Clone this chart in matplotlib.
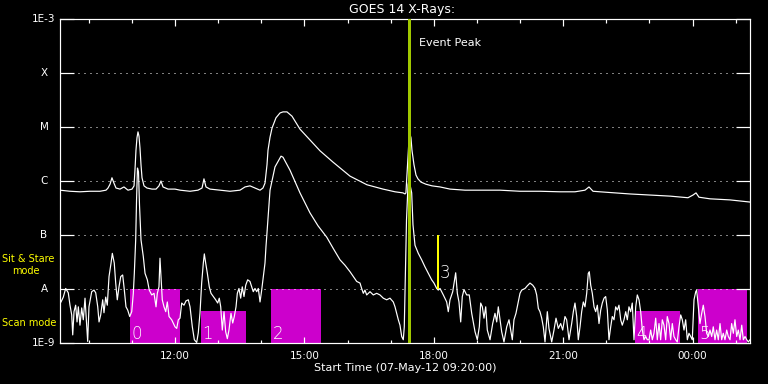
import numpy as np
import matplotlib
matplotlib.use("Agg")
import matplotlib.pyplot as plt
from matplotlib.patches import Rectangle
from matplotlib.ticker import FixedLocator, NullLocator

# ---------------- data (time in minutes after 07-May-12 09:20) ----------------
# GOES 14 long channel (1-8 A), log10 flux [W/m^2]
long_t = [0, 13.9, 27.8, 41.7, 55.7, 64.0, 66.8, 69.6, 72.3, 75.1,
          77.9, 83.5, 89.0, 94.6, 100.2, 103.0, 104.3, 105.7, 107.1, 108.5,
          109.9, 111.3, 112.7, 114.1, 116.9, 121.0, 128.0, 133.6, 137.7, 140.5,
          143.3, 150.3, 160.0, 167.0, 180.9, 192.0, 197.6, 200.3, 203.1, 208.7,
          222.6, 236.5, 250.4, 257.4, 264.3, 271.3, 278.3, 282.4, 285.2, 288.0,
          289.4, 292.2, 295.0, 300.5, 306.1, 310.3, 315.8, 322.8, 333.9, 347.8,
          361.7, 379.8, 403.5, 427.1, 449.4, 466.1, 477.2, 480.0, 481.3, 482.7,
          484.1, 485.5, 486.9, 488.3, 489.7, 492.5, 495.3, 498.0, 502.2, 509.2,
          517.6, 528.7, 542.6, 563.5, 584.3, 612.2, 640.0, 667.8, 695.7, 716.5,
          730.4, 736.0, 741.6, 751.3, 772.2, 793.0, 820.9, 848.7, 873.7, 880.7,
          884.9, 889.0, 904.3, 932.2, 960.0]
long_log10 = [-6.17, -6.19, -6.20, -6.19, -6.19, -6.17, -6.13, -6.06, -5.94, -6.04,
              -6.13, -6.15, -6.11, -6.17, -6.15, -6.09, -5.80, -5.43, -5.20, -5.09,
              -5.17, -5.39, -5.70, -5.94, -6.09, -6.13, -6.15, -6.15, -6.09, -6.00,
              -6.11, -6.15, -6.15, -6.17, -6.19, -6.17, -6.13, -5.96, -6.11, -6.15,
              -6.17, -6.19, -6.17, -6.11, -6.09, -6.13, -6.17, -6.13, -6.04, -5.70,
              -5.43, -5.19, -5.02, -4.83, -4.74, -4.72, -4.72, -4.80, -5.04, -5.24,
              -5.44, -5.65, -5.91, -6.07, -6.15, -6.20, -6.22, -6.24, -6.22, -5.89,
              -5.57, -5.24, -5.13, -5.20, -5.43, -5.70, -5.89, -5.96, -6.02, -6.06,
              -6.09, -6.11, -6.15, -6.17, -6.17, -6.17, -6.19, -6.19, -6.20, -6.20,
              -6.17, -6.11, -6.19, -6.20, -6.22, -6.24, -6.26, -6.28, -6.31, -6.26,
              -6.22, -6.30, -6.33, -6.35, -6.39]

# GOES 14 short channel (0.5-4 A), log10 flux [W/m^2]
short_t = [1.4, 4.6, 7.9, 11.5, 13.9, 16.3, 17.7, 19.5, 21.8, 23.7,
           25.5, 27.8, 30.2, 32.4, 34.8, 37.1, 38.5, 40.3, 44.1, 47.3,
           49.7, 52.5, 54.3, 56.6, 59.4, 61.2, 63.6, 65.8, 68.2, 71.0,
           72.8, 75.5, 77.5, 79.7, 82.1, 84.5, 87.2, 89.5, 91.8, 94.2,
           97.0, 99.8, 102.0, 103.4, 105.3, 106.5, 107.8, 109.2, 110.6, 112.7,
           115.9, 118.3, 121.5, 124.2, 127.6, 130.8, 133.6, 135.4, 137.7, 139.1,
           140.5, 142.3, 144.7, 147.1, 149.3, 151.7, 155.4, 157.6, 160.0, 162.4,
           164.6, 167.0, 169.3, 172.5, 175.3, 178.5, 180.9, 184.1, 186.9, 190.2,
           192.4, 194.8, 197.1, 199.4, 200.8, 202.7, 204.9, 207.7, 210.1, 213.3,
           216.6, 219.4, 221.6, 223.6, 225.8, 228.2, 230.5, 232.8, 235.1, 237.9,
           240.3, 242.5, 244.9, 246.7, 249.0, 251.4, 253.6, 256.0, 258.4, 261.1,
           264.3, 266.7, 268.9, 271.3, 273.7, 275.9, 278.3, 280.6, 282.9, 285.2,
           286.6, 287.6, 292.2, 299.1, 307.5, 310.3, 320.0, 333.9, 347.8, 359.0,
           371.1, 380.2, 389.6, 396.5, 403.5, 408.1, 412.8, 417.4, 419.7, 422.0,
           424.3, 426.7, 431.3, 435.9, 440.6, 445.2, 449.8, 454.5, 459.1, 463.7,
           466.1, 468.4, 470.7, 473.0, 475.4, 477.6, 479.0, 480.4, 482.1, 484.2,
           485.5, 487.0, 489.3, 491.1, 493.9, 498.5, 503.2, 507.8, 512.4, 517.1,
           520.3, 524.1, 526.3, 528.7, 533.3, 538.0, 540.2, 542.6, 546.4, 550.5,
           552.8, 555.1, 557.5, 559.7, 562.1, 565.8, 569.4, 572.8, 575.0, 577.4,
           580.6, 583.4, 585.3, 587.6, 589.9, 592.3, 594.5, 598.3, 602.0, 605.2,
           607.6, 609.8, 612.2, 614.5, 617.7, 621.5, 624.7, 627.1, 629.3, 631.6,
           634.4, 637.6, 640.0, 642.4, 647.0, 650.2, 653.9, 657.7, 660.9, 663.2,
           665.5, 667.8, 670.2, 672.4, 674.8, 678.0, 680.3, 684.1, 687.3, 690.1,
           693.3, 696.6, 699.4, 702.6, 704.9, 708.2, 711.9, 714.2, 716.5, 718.9,
           721.1, 723.5, 725.8, 728.1, 730.4, 732.8, 735.0, 736.4, 738.4, 740.6,
           743.0, 745.3, 747.6, 749.9, 752.3, 754.5, 756.9, 759.2, 761.5, 763.8,
           766.2, 768.4, 770.8, 773.1, 775.4, 777.7, 780.1, 782.3, 784.7, 787.1,
           789.3, 791.6, 794.0, 796.2, 798.6, 801.0, 803.2, 805.6, 807.9, 810.2,
           812.5, 814.9, 817.1, 819.5, 821.8, 824.1, 826.4, 828.8, 831.0, 833.4,
           835.7, 838.0, 840.3, 842.7, 844.9, 847.3, 849.6, 851.9, 854.2, 856.6,
           858.8, 861.2, 863.6, 865.8, 868.2, 870.5, 872.8, 875.1, 877.5, 879.7,
           882.1, 884.5, 885.8, 888.1, 890.4, 892.8, 895.0, 897.4, 899.7, 902.0,
           904.3, 906.7, 908.9, 911.3, 913.6, 915.9, 918.3, 920.6, 922.8, 925.2,
           927.6, 929.8, 932.2, 934.5, 936.8, 939.1, 941.5, 943.7, 946.1, 948.5,
           950.7, 953.1, 955.5, 957.7, 960.0]
short_log10 = [-8.24, -8.15, -7.99, -8.07, -8.30, -8.48, -8.85, -8.42, -8.30, -8.61,
               -8.33, -8.67, -8.35, -8.57, -8.17, -8.67, -8.97, -8.33, -8.05, -8.02,
               -8.07, -8.33, -8.61, -8.48, -8.20, -8.44, -8.15, -8.30, -7.77, -7.52,
               -7.34, -7.52, -7.89, -8.20, -7.96, -7.77, -7.74, -8.02, -8.33, -8.39,
               -8.51, -8.42, -8.08, -7.71, -7.09, -6.35, -5.76, -5.83, -6.44, -7.09,
               -7.40, -7.71, -7.83, -8.02, -8.11, -8.08, -8.33, -8.08, -7.96, -7.43,
               -7.77, -8.20, -8.33, -8.42, -8.24, -8.51, -8.57, -8.63, -8.70, -8.73,
               -8.57, -8.54, -8.26, -8.30, -8.22, -8.20, -8.33, -8.70, -8.94, -8.99,
               -8.81, -8.44, -7.89, -7.52, -7.35, -7.52, -7.70, -7.96, -8.08, -8.14,
               -8.20, -8.26, -8.17, -8.33, -8.76, -8.42, -8.79, -8.92, -8.76, -8.45,
               -8.63, -8.51, -8.33, -8.08, -7.99, -8.17, -7.96, -8.14, -7.93, -7.83,
               -7.86, -7.96, -8.05, -7.99, -8.05, -7.99, -8.24, -8.02, -7.77, -7.52,
               -7.21, -7.03, -6.17, -5.74, -5.54, -5.56, -5.80, -6.22, -6.59, -6.83,
               -7.04, -7.25, -7.46, -7.56, -7.68, -7.77, -7.86, -7.89, -7.99, -8.08,
               -8.02, -8.11, -8.05, -8.11, -8.08, -8.11, -8.17, -8.20, -8.17, -8.24,
               -8.33, -8.45, -8.57, -8.67, -8.88, -8.94, -8.70, -7.83, -6.72, -6.07,
               -5.98, -6.07, -6.22, -6.81, -7.19, -7.34, -7.46, -7.59, -7.71, -7.83,
               -7.89, -7.99, -8.02, -7.99, -8.11, -8.24, -8.42, -8.20, -8.05, -7.70,
               -8.08, -8.24, -8.61, -8.14, -8.01, -8.11, -8.11, -8.45, -8.61, -8.79,
               -8.94, -8.70, -8.26, -8.33, -8.54, -8.33, -8.76, -8.94, -8.64, -8.45,
               -8.61, -8.33, -8.57, -8.79, -8.98, -8.70, -8.57, -8.76, -8.94, -8.57,
               -8.45, -8.24, -8.08, -8.02, -7.99, -7.94, -7.89, -7.93, -7.99, -8.11,
               -8.36, -8.42, -8.54, -8.70, -8.98, -8.42, -8.73, -8.98, -8.76, -8.54,
               -8.73, -8.64, -8.76, -8.51, -8.57, -8.94, -8.64, -8.42, -8.26, -8.51,
               -8.94, -8.70, -8.42, -8.24, -8.33, -8.08, -7.71, -7.68, -7.93, -8.08,
               -8.33, -8.42, -8.30, -8.64, -8.39, -8.26, -8.17, -8.14, -8.39, -8.94,
               -8.70, -8.51, -8.57, -8.33, -8.39, -8.30, -8.57, -8.67, -8.57, -8.42,
               -8.57, -8.33, -8.42, -8.26, -8.94, -8.33, -8.11, -8.20, -8.42, -8.76,
               -8.94, -8.88, -8.94, -8.94, -8.76, -8.94, -8.82, -8.54, -8.94, -8.64,
               -8.94, -8.57, -8.67, -8.94, -8.51, -8.64, -8.94, -8.64, -8.88, -8.94,
               -8.98, -8.70, -8.48, -8.57, -8.76, -8.57, -8.94, -8.82, -8.88, -8.94,
               -8.20, -8.05, -8.02, -8.33, -8.64, -8.45, -8.30, -8.51, -8.82, -8.88,
               -8.76, -8.88, -8.70, -8.94, -8.76, -8.94, -8.64, -8.94, -8.82, -8.94,
               -8.76, -8.88, -8.94, -8.64, -8.82, -8.57, -8.88, -8.76, -8.94, -8.67,
               -8.94, -8.88, -8.94, -8.98, -8.94]

# observation intervals (minutes after 09:20)
obs_labels = ["0", "1", "2", "4", "5"]
obs_start = [97.4, 196.2, 293.6, 800.0, 887.2]
obs_end = [167.0, 258.4, 362.7, 862.6, 956.2]
obs_mode = ["sit", "scan", "sit", "scan", "sit"]
mode_top = {"sit": 1e-8, "scan": 10 ** -8.4}
short_obs_label = "3"
short_obs_time = 525.9
short_obs_range = [1e-8, 1e-7]
event_peak_time = 485.6

y_levels = [1e-9, 1e-8, 1e-7, 1e-6, 1e-5, 1e-4, 1e-3]
y_labels = ["1E-9", "A", "B", "C", "M", "X", "1E-3"]
x_major = [160, 340, 520, 700, 880]
x_major_labels = ["12:00", "15:00", "18:00", "21:00", "00:00"]
x_minor = [40, 100, 220, 280, 400, 460, 580, 640, 760, 820, 940]

# ---------------- figure ----------------
W, H = 768, 384
PT = 72.0 / 100.0  # points per pixel
fig = plt.figure(figsize=(W / 100, H / 100), dpi=100, facecolor="black")
ax = fig.add_axes([60 / W, 1 - 343 / H, 690 / W, 324 / H], facecolor="black")
ax.set_yscale("log")
ax.set_xlim(0, 960)
ax.set_ylim(1e-9, 1e-3)

magenta = "#cc00cc"
yellow = "#ffff00"
green = "#a0c800"

for s, e, m in zip(obs_start, obs_end, obs_mode):
    ax.add_patch(Rectangle((s, 1e-9), e - s, mode_top[m] - 1e-9,
                           facecolor=magenta, edgecolor="none", zorder=1))

for lv in y_levels[1:-1]:
    ax.axhline(lv, color="white", lw=1 * PT, ls=(0, (1, 5)), zorder=2)

ax.plot(long_t, 10 ** np.array(long_log10), color="white", lw=1.2 * PT, zorder=3)
ax.plot(short_t, 10 ** np.array(short_log10), color="white", lw=1.2 * PT, zorder=3)

ax.vlines(short_obs_time, short_obs_range[0], short_obs_range[1],
          color=yellow, lw=2 * PT, zorder=4)
ax.annotate(short_obs_label, xy=(short_obs_time, short_obs_range[0]),
            xytext=(1.5 * PT, 11 * PT), textcoords="offset points",
            ha="left", va="baseline", color="white", fontsize=12,
            fontweight="light", zorder=5)

for lab, s in zip(obs_labels, obs_start):
    ax.annotate(lab, xy=(s, 1e-9), xytext=(1.5 * PT, 4 * PT),
                textcoords="offset points", ha="left", va="baseline",
                color="white", fontsize=12, fontweight="light", zorder=5)

ax.axvline(event_peak_time, color=green, lw=3 * PT, zorder=4)
ax.annotate("Event Peak", xy=(event_peak_time, 1e-3), xytext=(10 * PT, -24 * PT),
            textcoords="offset points", ha="left", va="center",
            color="white", fontsize=8)

# axes styling
for sp in ax.spines.values():
    sp.set_color("white")
    sp.set_linewidth(1.2 * PT)

ax.yaxis.set_major_locator(FixedLocator(y_levels))
ax.yaxis.set_minor_locator(NullLocator())
ax.tick_params(axis="y", which="major", direction="in", length=14 * PT,
               width=1.2 * PT, color="white", left=True, right=True,
               labelleft=False, labelright=False)
for lv, lab in zip(y_levels, y_labels):
    ax.text(-16 / 690, lv, lab, transform=ax.get_yaxis_transform(),
            ha="center", va="center", color="white", fontsize=7.5)

ax.xaxis.set_major_locator(FixedLocator(x_major))
ax.xaxis.set_minor_locator(FixedLocator(x_minor))
ax.set_xticklabels(x_major_labels)
ax.tick_params(axis="x", which="major", direction="in", length=6.5 * PT,
               width=1.2 * PT, color="white", top=True, bottom=True,
               labelcolor="white", labelsize=7.5, pad=6)
ax.tick_params(axis="x", which="minor", direction="in", length=3.5 * PT,
               width=1.2 * PT, color="white", top=True, bottom=True)

fig.text(402 / W, 1 - 9 / H, "GOES 14 X-Rays:", ha="center", va="center",
         color="white", fontsize=9)
fig.text(405 / W, 1 - 368 / H, "Start Time (07-May-12 09:20:00)", ha="center",
         va="center", color="white", fontsize=8)

fig.text(2 / W, 1 - 259 / H, "Sit & Stare", ha="left", va="center",
         color=yellow, fontsize=7)
fig.text(12.5 / W, 1 - 271.5 / H, "mode", ha="left", va="center",
         color=yellow, fontsize=7)
fig.text(2 / W, 1 - 323.5 / H, "Scan mode", ha="left", va="center",
         color=yellow, fontsize=7)

fig.savefig("out.png", dpi=100, facecolor="black")
